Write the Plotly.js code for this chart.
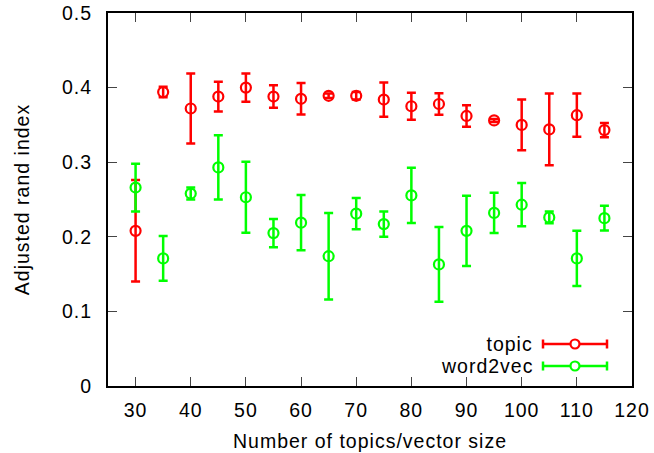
<!DOCTYPE html>
<html>
<head>
<meta charset="utf-8">
<script src="https://cdn.plot.ly/plotly-3.0.1.min.js"></script>
<style>
html,body{margin:0;padding:0;background:#fff;}
#chart{width:654px;height:453px;}
#chart svg text{letter-spacing:1px;}
</style>
</head>
<body>
<div id="chart"></div>
<script>
var sizes = [30, 35, 40, 45, 50, 55, 60, 65, 70, 75, 80, 85, 90, 95, 100, 105, 110, 115];
var topicMean = [0.208, 0.394, 0.372, 0.388, 0.400, 0.388, 0.385, 0.389, 0.389, 0.384, 0.375, 0.378, 0.362, 0.356, 0.350, 0.344, 0.363, 0.343];
var topicErr  = [0.068, 0.007, 0.047, 0.020, 0.019, 0.015, 0.021, 0.003, 0.005, 0.023, 0.018, 0.0145, 0.0145, 0.002, 0.034, 0.048, 0.029, 0.0095];
var w2vMean   = [0.266, 0.171, 0.258, 0.293, 0.253, 0.205, 0.219, 0.174, 0.231, 0.217, 0.2555, 0.163, 0.208, 0.232, 0.243, 0.226, 0.171, 0.225];
var w2vErr    = [0.032, 0.030, 0.008, 0.043, 0.0475, 0.019, 0.037, 0.058, 0.021, 0.017, 0.037, 0.050, 0.047, 0.027, 0.029, 0.008, 0.037, 0.0166];
var seriesNames = ['topic', 'word2vec'];
var xTicks = [30, 40, 50, 60, 70, 80, 90, 100, 110, 120];
var yTicks = [0, 0.1, 0.2, 0.3, 0.4, 0.5];

var RED = '#ff0000', GREEN = '#00ff00';
var FONT = 'Liberation Sans, Arial, sans-serif';
var FS = 19.5;

function series(name, y, err, color) {
  return {
    type: 'scatter', mode: 'markers', name: name, x: sizes, y: y,
    marker: {symbol: 'circle-open', size: 10, color: color, line: {width: 2.2, color: color}},
    error_y: {type: 'data', array: err, visible: true, color: color, thickness: 2.5, width: 4.5},
    showlegend: false, hoverinfo: 'x+y'
  };
}

var data = [
  series(seriesNames[0], topicMean, topicErr, RED),
  series(seriesNames[1], w2vMean, w2vErr, GREEN)
];

// manual gnuplot-style key (paper coordinates)
var L = 108, W = 524, B = 386, H = 373;
function px(x){ return (x - L) / W; }
function py(y){ return (B - y) / H; }
var shapes = [], annotations = [];
[[seriesNames[0], RED, 344], [seriesNames[1], GREEN, 366]].forEach(function(k){
  var yy = py(k[2]);
  shapes.push({type:'line', xref:'paper', yref:'paper', x0:px(543), x1:px(607), y0:yy, y1:yy, line:{color:k[1], width:2.5}});
  shapes.push({type:'line', xref:'paper', yref:'paper', x0:px(543), x1:px(543), y0:py(k[2]-4.5), y1:py(k[2]+4.5), line:{color:k[1], width:2.5}});
  shapes.push({type:'line', xref:'paper', yref:'paper', x0:px(607), x1:px(607), y0:py(k[2]-4.5), y1:py(k[2]+4.5), line:{color:k[1], width:2.5}});
  shapes.push({type:'circle', xref:'paper', yref:'paper', x0:px(570.5), x1:px(579.5), y0:py(k[2]-4.5), y1:py(k[2]+4.5), line:{color:k[1], width:2.2}, fillcolor:'white'});
  annotations.push({xref:'paper', yref:'paper', x:px(532), y:yy, xanchor:'right', yanchor:'middle', text:k[0], showarrow:false, font:{family:FONT, size:FS, color:'#000'}});
});

var layout = {
  width: 654, height: 453,
  margin: {l: 108, r: 22, t: 13, b: 67},
  paper_bgcolor: '#fff', plot_bgcolor: '#fff',
  font: {family: FONT, size: FS, color: '#000'},
  xaxis: {
    range: [25, 120], tickvals: xTicks, ticktext: xTicks.map(String),
    ticks: 'inside', ticklen: 9, tickwidth: 1, tickcolor: '#444',
    showline: true, linecolor: '#000', linewidth: 2, mirror: 'ticks',
    showgrid: false, zeroline: false, ticklabelstandoff: 6,
    title: {text: 'Number of topics/vector size', font: {family: FONT, size: FS}, standoff: 14}
  },
  yaxis: {
    range: [0, 0.5], tickvals: yTicks, ticktext: yTicks.map(String),
    ticks: 'inside', ticklen: 9, tickwidth: 1, tickcolor: '#444',
    showline: true, linecolor: '#000', linewidth: 2, mirror: 'ticks',
    showgrid: false, zeroline: false, ticklabelstandoff: 10,
    title: {text: 'Adjusted rand index', font: {family: FONT, size: FS}, standoff: 30}
  },
  shapes: shapes,
  annotations: annotations
};

Plotly.newPlot('chart', data, layout, {displayModeBar: false, staticPlot: true});
</script>
</body>
</html>
